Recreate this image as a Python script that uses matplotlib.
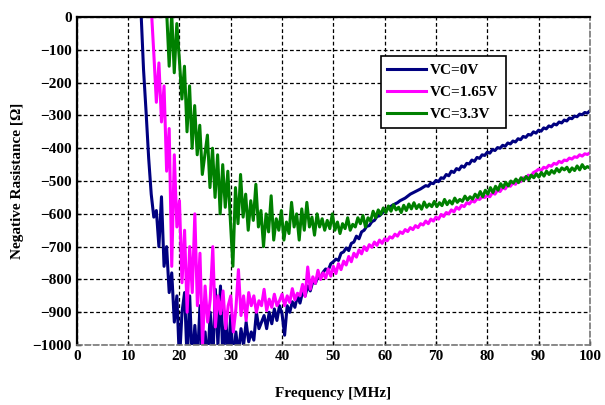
import numpy as np
import matplotlib.pyplot as plt

plt.rcParams['font.family'] = ['Liberation Serif', 'DejaVu Serif']
plt.rcParams['font.weight'] = 'bold'

# Negative resistance [Ohm], 0.5 MHz steps
# one line per 5 MHz block
vc0_start = 12.5
vc0 = [20, -160, -290, -430, -540,
       -610, -590, -700, -548, -760, -700, -840, -780, -930, -850,
       -1050, -900, -840, -1050, -850, -1060, -940, -1050, -880, -1060,
       -960, -1060, -900, -1050, -830, -1000, -820, -1060, -900, -1050,
       -910, -1060, -960, -1030, -950, -1000, -930, -990, -960, -985,
       -900, -950, -930, -910, -950, -900, -935, -890, -925, -880,
       -905, -970, -880, -900, -868, -885, -850, -872, -838, -850,
       -820, -835, -806, -812, -790, -795, -778, -768, -772, -752,
       -746, -738, -742, -720, -716, -704, -712, -690, -686, -668,
       -676, -655, -650, -638, -636, -624, -620, -608, -606, -598,
       -590, -586, -580, -574, -570, -566, -560, -556, -552, -546,
       -540, -536, -532, -528, -524, -519, -514, -516, -506, -508,
       -498, -502, -490, -492, -480, -484, -470, -474, -462, -466,
       -454, -458, -446, -448, -436, -440, -428, -431, -420, -422,
       -412, -415, -404, -407, -398, -400, -391, -394, -384, -387,
       -378, -381, -371, -374, -364, -367, -358, -360, -350, -354,
       -345, -348, -338, -341, -332, -335, -326, -329, -320, -323,
       -314, -317, -308, -310, -302, -304, -296, -298, -291, -293,
       -286]

vc165_start = 14.5
vc165 = [30,
         -110, -260, -140, -320, -210, -470, -340, -760, -420, -640,
         -560, -810, -650, -900, -700, -840, -600, -880, -720, -1000,
         -820, -930, -860, -700, -945, -850, -905, -835, -950, -880,
         -850, -960, -890, -770, -910, -850, -925, -840, -880, -850,
         -900, -865, -880, -830, -895, -860, -885, -845, -880, -865,
         -845, -880, -850, -870, -828, -862, -842, -850, -815, -852,
         -762, -830, -792, -812, -772, -800, -780, -796, -768, -790,
         -760, -782, -752, -770, -744, -756, -730, -746, -720, -732,
         -710, -722, -700, -712, -694, -702, -686, -696, -680, -690,
         -676, -682, -670, -674, -662, -668, -655, -660, -648, -654,
         -642, -648, -636, -642, -630, -634, -622, -630, -616, -622,
         -610, -616, -602, -608, -596, -600, -588, -594, -580, -586,
         -574, -578, -566, -570, -560, -564, -554, -556, -548, -550,
         -544, -548, -536, -540, -528, -532, -520, -524, -512, -516,
         -506, -510, -498, -502, -490, -494, -482, -486, -474, -470,
         -464, -468, -458, -461, -452, -455, -446, -449, -440, -444,
         -436, -438, -430, -433, -426, -428, -420, -424, -417, -419,
         -414]

vc33_start = 17.5
vc33 = [20, -150, 10, -170, -20,
        -130, -250, -150, -350, -210, -400, -270, -420, -330, -480,
        -420, -360, -520, -400, -550, -420, -600, -450, -580, -470,
        -620, -760, -520, -630, -480, -610, -540, -650, -560, -620,
        -510, -640, -590, -700, -600, -655, -545, -680, -615, -650,
        -590, -680, -625, -660, -565, -640, -600, -680, -585, -650,
        -565, -640, -610, -665, -600, -640, -615, -650, -620, -645,
        -600, -650, -625, -660, -630, -645, -612, -650, -632, -640,
        -612, -630, -605, -640, -612, -622, -592, -612, -588, -602,
        -582, -596, -576, -592, -572, -588, -580, -596, -574, -590,
        -570, -585, -566, -584, -572, -586, -564, -580, -570, -578,
        -562, -578, -566, -575, -556, -572, -560, -570, -552, -565,
        -556, -562, -546, -558, -548, -555, -540, -550, -532, -548,
        -528, -540, -520, -535, -516, -528, -508, -520, -504, -515,
        -500, -506, -494, -505, -490, -498, -486, -496, -482, -490,
        -478, -488, -474, -485, -470, -480, -468, -476, -462, -472,
        -460, -466, -458, -472, -460, -468, -454, -466, -450, -462,
        -456, -460]

series = [
    (vc0_start, vc0, '#000080', 'VC=0V'),
    (vc165_start, vc165, '#FF00FF', 'VC=1.65V'),
    (vc33_start, vc33, '#008000', 'VC=3.3V'),
]

fig = plt.figure(figsize=(6.05, 4.05), dpi=100)
ax = fig.add_axes([0.127, 0.148, 0.848, 0.810])

for start, vals, col, lab in series:
    f = np.linspace(start, 100, len(vals))
    ax.plot(f, vals, color=col, lw=2.2, label=lab)

ax.set_xlim(0, 100)
ax.set_ylim(-1000, 0)
ax.set_xticks(np.arange(0, 101, 10))
ax.set_yticks(np.arange(-1000, 1, 100))
ax.tick_params(labelsize=11, direction='in', length=3, width=1)
ax.grid(True, color='black', linestyle=(0, (3, 2)), lw=0.9)

for s in ['left', 'top']:
    ax.spines[s].set_linewidth(1.6)
    ax.spines[s].set_color('black')
for s in ['bottom', 'right']:
    ax.spines[s].set_linestyle((0, (3, 2)))
    ax.spines[s].set_color('#777777')
    ax.spines[s].set_linewidth(1.2)

ax.set_xlabel('Frequency [MHz]', fontsize=11, fontweight='bold', labelpad=17)
ax.set_ylabel('Negative Rasistance [Ω]', fontsize=11, fontweight='bold', labelpad=6)

leg = ax.legend(loc='upper left', bbox_to_anchor=(0.592, 0.88), fontsize=11,
                frameon=True, fancybox=False, edgecolor='black', framealpha=1,
                handlelength=2.5, handletextpad=0.3, borderpad=0.45,
                labelspacing=0.55, borderaxespad=0)
leg.get_frame().set_linewidth(1.2)
for t in leg.get_texts():
    t.set_fontweight('bold')

fig.savefig('out.png', dpi=100)
